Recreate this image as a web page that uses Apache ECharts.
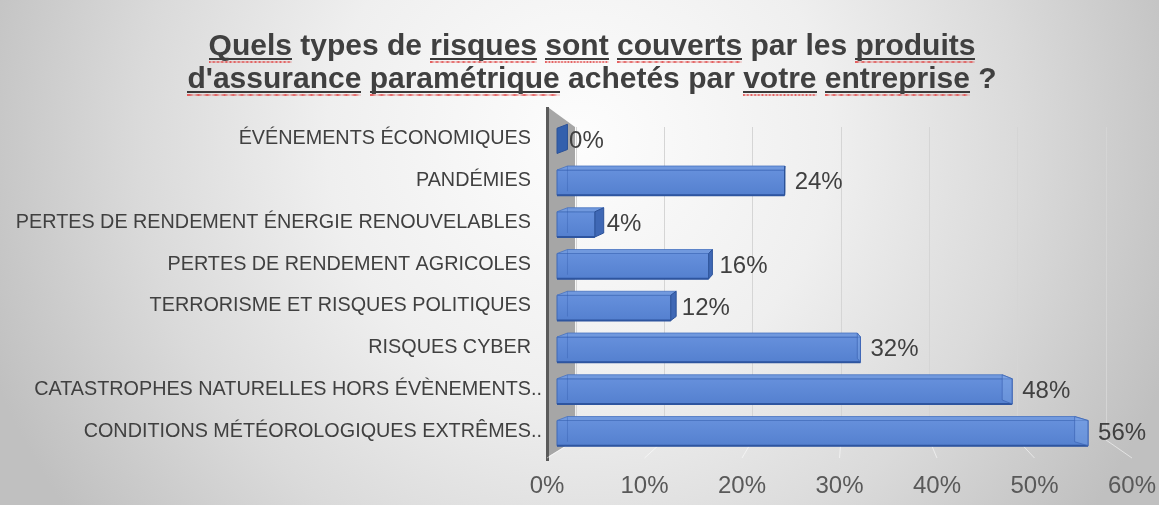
<!DOCTYPE html>
<html>
<head>
<meta charset="utf-8">
<script src="https://cdn.jsdelivr.net/npm/echarts@6/dist/echarts.min.js"></script>
<style>
html,body{margin:0;padding:0;background:#fff;}
#chart{width:1159px;height:505px;}
</style>
</head>
<body>
<div id="chart"></div>
<script>
// ---------- data ----------
const categories = [
  'ÉVÉNEMENTS ÉCONOMIQUES',
  'PANDÉMIES',
  'PERTES DE RENDEMENT ÉNERGIE RENOUVELABLES',
  'PERTES DE RENDEMENT AGRICOLES',
  'TERRORISME ET RISQUES POLITIQUES',
  'RISQUES CYBER',
  'CATASTROPHES NATURELLES HORS ÉVÈNEMENTS..',
  'CONDITIONS MÉTÉOROLOGIQUES EXTRÊMES..'
];
const values = [0, 24, 4, 16, 12, 32, 48, 56];
const tickValues = [0, 10, 20, 30, 40, 50, 60];
const axisMin = 0, axisMax = 60, axisInterval = 10;
const titleLines = [
  "Quels types de risques sont couverts par les produits",
  "d'assurance paramétrique achetés par votre entreprise ?"
];
const flaggedWords = ['Quels', 'risques', 'sont', 'couverts', 'produits', "d'assurance", 'paramétrique', 'votre', 'entreprise'];

// ---------- layout / style ----------
const FONT = '"Liberation Sans", Arial, sans-serif';
const L = {
  back:   { left: 576, top: 127, width: 530, height: 313 },
  bars:   { left: 557, top: 118, width: 569, height: 334 },
  labels: { left: 547, width: 586, top: 200, bottom: 39 }
};
const VPX = 790, DEPTH_K = 0.045, DY = 4;
const CAT_FONT = 19.8;
const TITLE_FONT = 30;

// tall, narrow canvas so the rich-text background never widens a word
function underlineImage() {
  const S = 20;
  const c = document.createElement('canvas');
  c.width = 40; c.height = 33 * S;
  const g = c.getContext('2d');
  g.fillStyle = '#3a3a3a';
  g.fillRect(0, 28.4 * S, 40, 1.6 * S);
  g.fillStyle = 'rgba(225,70,70,0.85)';
  for (let x = 0; x < 40; x += 2) g.fillRect(x, 31.3 * S, 1.2, 1.4 * S);
  return c;
}
const ulImg = underlineImage();

function buildTitle() {
  return titleLines.map(line =>
    line.split(' ').map(w => flaggedWords.includes(w) ? '{u|' + w + '}' : w).join(' ')
  ).join('\n');
}
const stripDots = v => v.endsWith('..') ? v.slice(0, -2) : v;
const onlyDots = v => v.endsWith('..') ? '..' : '';

const chart = echarts.init(document.getElementById('chart'), null, { renderer: 'canvas' });

const option = {
  animation: false,
  backgroundColor: {
    type: 'radial', x: 0.5, y: 0.28, r: 1.25,
    colorStops: [
      { offset: 0, color: '#fdfdfd' },
      { offset: 0.4, color: '#efefef' },
      { offset: 0.7, color: '#dadada' },
      { offset: 1, color: '#c0c0c0' }
    ]
  },
  title: {
    text: buildTitle(),
    left: 587,
    top: 25,
    textAlign: 'center',
    textStyle: {
      fontFamily: FONT, fontSize: TITLE_FONT, fontWeight: 'bold', color: '#404040', lineHeight: 33,
      rich: {
        u: {
          fontFamily: FONT, fontSize: TITLE_FONT, fontWeight: 'bold', color: '#404040',
          lineHeight: 33, height: 33,
          backgroundColor: { image: ulImg }
        }
      }
    }
  },
  grid: [
    { left: L.back.left, top: L.back.top, width: L.back.width, height: L.back.height, containLabel: false },
    { left: L.bars.left, top: L.bars.top, width: L.bars.width, height: L.bars.height, containLabel: false },
    { left: L.labels.left, top: L.labels.top, width: L.labels.width, bottom: L.labels.bottom, containLabel: false }
  ],
  xAxis: [
    { gridIndex: 0, type: 'value', min: axisMin, max: axisMax, interval: axisInterval,
      axisLabel: { show: false }, axisLine: { show: false }, axisTick: { show: false },
      splitLine: { show: true, lineStyle: { color: '#d5d5d5', width: 1 } } },
    { gridIndex: 1, type: 'value', min: axisMin, max: axisMax, interval: axisInterval, show: false,
      splitLine: { show: false } },
    { gridIndex: 2, type: 'value', min: axisMin, max: axisMax, interval: axisInterval,
      axisLine: { show: false }, axisTick: { show: false }, splitLine: { show: false },
      axisLabel: { show: true, formatter: '{value}%', color: '#595959', fontSize: 24, fontFamily: FONT, margin: 8 } }
  ],
  yAxis: [
    { gridIndex: 0, type: 'value', min: 0, max: 1, show: false, splitLine: { show: false } },
    { gridIndex: 1, type: 'category', data: categories, inverse: true, position: 'left',
      axisLine: { show: false }, axisTick: { show: false }, splitLine: { show: false },
      axisLabel: { interval: 0, margin: 26, formatter: stripDots,
        fontFamily: FONT, fontSize: CAT_FONT, color: '#404040' } },
    { gridIndex: 2, type: 'value', min: 0, max: 1, show: false, splitLine: { show: false } },
    { gridIndex: 1, type: 'category', data: categories, inverse: true, position: 'left', offset: 0,
      axisLine: { show: false }, axisTick: { show: false }, splitLine: { show: false },
      axisLabel: { interval: 0, margin: 15, formatter: onlyDots,
        fontFamily: FONT, fontSize: CAT_FONT, color: '#404040' } }
  ],
  graphic: [
    { type: 'polygon', z: 1, silent: true,
      shape: { points: [[549, 108], [L.back.left - 1, L.back.top], [L.back.left - 1, L.back.top + L.back.height], [549, 456]] },
      style: { fill: '#a6a6a6' } },
    { type: 'rect', z: 1, silent: true,
      shape: { x: 546, y: 107, width: 3, height: 354 },
      style: { fill: '#5a5a5a' } }
  ],
  series: [
    {
      type: 'custom', name: 'floor', xAxisIndex: 2, yAxisIndex: 2, silent: true, z: 1,
      data: tickValues.map(v => [v, 0]),
      renderItem: (params, api) => {
        const v = api.value(0);
        const pf = api.coord([v, 0]);
        const xb = L.back.left + (v - axisMin) / (axisMax - axisMin) * L.back.width;
        const yb = L.back.top + L.back.height;
        return { type: 'line', shape: { x1: xb, y1: yb, x2: pf[0], y2: pf[1] - 8 },
          style: { stroke: 'rgba(255,255,255,0.55)', lineWidth: 1 } };
      }
    },
    {
      type: 'custom', name: 'bars', xAxisIndex: 1, yAxisIndex: 1, silent: true, z: 5,
      data: values.map((v, i) => [v, i]),
      renderItem: (params, api) => {
        const v = api.value(0), c = api.value(1);
        const p0 = api.coord([0, c]);
        const p1 = api.coord([v, c]);
        const band = api.size([0, 1])[1];
        const h = band * 0.70;
        const cy = p0[1];
        const yTop = cy - h / 2, yBot = cy + h / 2, fTop = yTop + DY;
        const x0 = p0[0], x1 = p1[0];
        const dx0 = (VPX - x0) * DEPTH_K, dxE = (VPX - x1) * DEPTH_K;
        const ch = [];
        if (x1 - x0 > 0.5) {
          ch.push({ type: 'rect', shape: { x: x0, y: fTop, width: x1 - x0, height: yBot - fTop },
            style: { fill: { type: 'linear', x: 0, y: 0, x2: 0, y2: 1,
              colorStops: [{ offset: 0, color: '#6690dc' }, { offset: 1, color: '#5480cf' }] },
              stroke: '#3f68b6', lineWidth: 1 } });
          ch.push({ type: 'polygon', shape: { points: [[x0, fTop], [x1, fTop], [x1 + dxE, yTop], [x0 + dx0, yTop]] },
            style: { fill: '#7199de', stroke: '#4872c0', lineWidth: 0.8 } });
          ch.push({ type: 'line', shape: { x1: x0, y1: yBot, x2: x1, y2: yBot },
            style: { stroke: '#2e559f', lineWidth: 2 } });
          ch.push({ type: 'line', shape: { x1: x0 + dx0, y1: yTop, x2: x0 + dx0, y2: yBot - DY },
            style: { stroke: 'rgba(50,90,170,0.35)', lineWidth: 1 } });
        }
        const endPts = [[x1, fTop], [x1 + dxE, yTop], [x1 + dxE, yBot - DY], [x1, yBot]];
        if (dxE > 0) {
          ch.push({ type: 'polygon', shape: { points: endPts },
            style: { fill: x1 - x0 > 0.5 ? '#3f68b5' : '#3360ad', stroke: '#2c5298', lineWidth: 1 } });
        } else {
          ch.push({ type: 'polygon', shape: { points: endPts },
            style: { fill: 'rgba(150,185,240,0.30)', stroke: 'rgba(60,100,180,0.7)', lineWidth: 1 } });
        }
        ch.push({ type: 'text', style: {
          text: v + '%', x: x1 + 10 + Math.max(dxE, 0) * 0.2, y: cy + 2,
          fill: '#404040', font: '24px ' + FONT, align: 'left', verticalAlign: 'middle' } });
        return { type: 'group', children: ch };
      }
    }
  ]
};
chart.setOption(option);
</script>
</body>
</html>
